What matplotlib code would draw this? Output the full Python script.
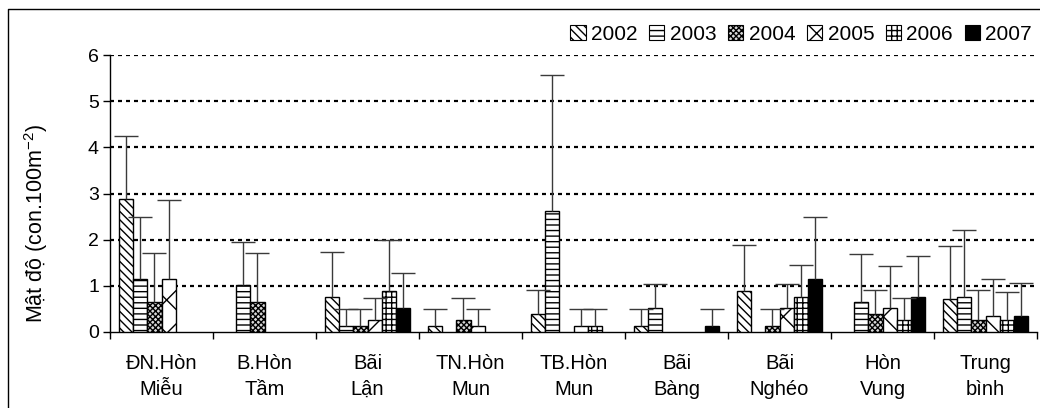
import numpy as np
import matplotlib
matplotlib.use("Agg")
import matplotlib.pyplot as plt
from matplotlib.patches import Patch
from matplotlib.lines import Line2D

plt.rcParams['font.family'] = ['Liberation Sans', 'DejaVu Sans']
plt.rcParams['mathtext.fontset'] = 'custom'
plt.rcParams['mathtext.rm'] = 'Liberation Sans'
plt.rcParams['mathtext.it'] = 'Liberation Sans:italic'
plt.rcParams['hatch.linewidth'] = 1.0

sites = ["ĐN.Hòn\nMiễu", "B.Hòn\nTầm", "Bãi\nLận", "TN.Hòn\nMun", "TB.Hòn\nMun",
         "Bãi\nBàng", "Bãi\nNghéo", "Hòn\nVung", "Trung\nbình"]
years = ["2002", "2003", "2004", "2005", "2006", "2007"]

# mean density per site for each year
mean_2002 = [2.89, 0.00, 0.75, 0.14, 0.38, 0.14, 0.89, 0.00, 0.71]
mean_2003 = [1.15, 1.01, 0.14, 0.00, 2.63, 0.53, 0.00, 0.65, 0.75]
mean_2004 = [0.64, 0.64, 0.14, 0.25, 0.00, 0.00, 0.14, 0.38, 0.27]
mean_2005 = [1.15, 0.00, 0.25, 0.14, 0.14, 0.00, 0.52, 0.52, 0.34]
mean_2006 = [0.00, 0.00, 0.89, 0.00, 0.14, 0.00, 0.75, 0.25, 0.25]
mean_2007 = [0.00, 0.00, 0.53, 0.00, 0.00, 0.14, 1.15, 0.76, 0.34]

# standard deviation (upper error bars)
sd_2002 = [1.35, 0.00, 0.98, 0.35, 0.54, 0.35, 1.00, 0.00, 1.15]
sd_2003 = [1.35, 0.93, 0.35, 0.00, 2.93, 0.51, 0.00, 1.05, 1.46]
sd_2004 = [1.07, 1.07, 0.35, 0.48, 0.00, 0.00, 0.35, 0.54, 0.65]
sd_2005 = [1.71, 0.00, 0.48, 0.35, 0.35, 0.00, 0.53, 0.92, 0.81]
sd_2006 = [0.00, 0.00, 1.11, 0.00, 0.35, 0.00, 0.71, 0.48, 0.61]
sd_2007 = [0.00, 0.00, 0.75, 0.00, 0.00, 0.35, 1.35, 0.89, 0.73]

yticks = [0, 1, 2, 3, 4, 5, 6]

means = [mean_2002, mean_2003, mean_2004, mean_2005, mean_2006, mean_2007]
sds = [sd_2002, sd_2003, sd_2004, sd_2005, sd_2006, sd_2007]
styles = [
    dict(facecolor="white", hatch="\\\\\\\\"),
    dict(facecolor="white", hatch="---"),
    dict(facecolor="#d8d8d8", hatch="xxxxxx"),
    dict(facecolor="white", hatch="x"),
    dict(facecolor="white", hatch="+++"),
    dict(facecolor="black", hatch=None),
]
# legend swatches are small, so the open cross pattern gets a finer spacing
legend_styles = [dict(st) for st in styles]
legend_styles[3]["hatch"] = "xx"

fig = plt.figure(figsize=(10.4, 4.08), dpi=100)
ax = fig.add_axes([110 / 1040, 1 - 332 / 408, 927 / 1040, 277 / 408])

x = np.arange(len(sites))
width = 0.136
for j, (m, s, st) in enumerate(zip(means, sds, styles)):
    m = np.asarray(m)
    s = np.asarray(s)
    keep = m > 0
    pos = x + (j - 2.5) * width
    ax.bar(pos[keep], m[keep], width, edgecolor="black", linewidth=1.0,
           zorder=3, **st)
    _, caps, _ = ax.errorbar(pos[keep], m[keep],
                             yerr=[np.zeros(keep.sum()), s[keep]],
                             fmt="none", ecolor="#3a3a3a", elinewidth=1.0,
                             capsize=8.5, capthick=1.0, zorder=4)
    # only the upper cap is shown
    caps[0].set_visible(False)

ax.set_xlim(-0.5, len(sites) - 0.5)
ax.set_ylim(0, 6)
ax.set_yticks(yticks)
ax.set_yticklabels([str(t) for t in yticks], fontsize=14)
for t in yticks[1:]:
    ax.axhline(t, color="black", linewidth=1.6, linestyle=(0, (1.8, 1.8)),
               zorder=1)

ax.set_xticks(x)
ax.set_xticklabels(sites, fontsize=14.5, linespacing=1.45)
ax.set_xticks(np.arange(-0.5, len(sites)), minor=True)
ax.tick_params(axis="x", which="major", length=0, pad=16)
ax.tick_params(axis="x", which="minor", length=5, width=1, direction="out")
ax.tick_params(axis="y", length=5, width=1, direction="out", pad=3)

for side in ("top", "right"):
    ax.spines[side].set_visible(False)
for side in ("left", "bottom"):
    ax.spines[side].set_linewidth(1.0)

fig.text(36 / 1040, 1 - 224 / 408, "Mật độ (con.100m$^{-2}$)", rotation=90,
         ha="center", va="center", fontsize=15.5)

handles = [Patch(edgecolor="black", linewidth=0.8, **st) for st in legend_styles]
fig.legend(handles, years, loc="upper right", ncol=6, frameon=False,
           bbox_to_anchor=(1032 / 1040, 1 - 25 / 408), fontsize=15,
           handlelength=0.75, handleheight=0.7, handletextpad=0.25,
           columnspacing=0.55, borderpad=0, borderaxespad=0)

# outer frame edge (left and top)
fig.add_artist(Line2D([7.5 / 1040, 7.5 / 1040, 1.0], [0.0, 1 - 9 / 408, 1 - 9 / 408],
                      transform=fig.transFigure, color="black", linewidth=1.0))

fig.savefig("out.png", dpi=100)
